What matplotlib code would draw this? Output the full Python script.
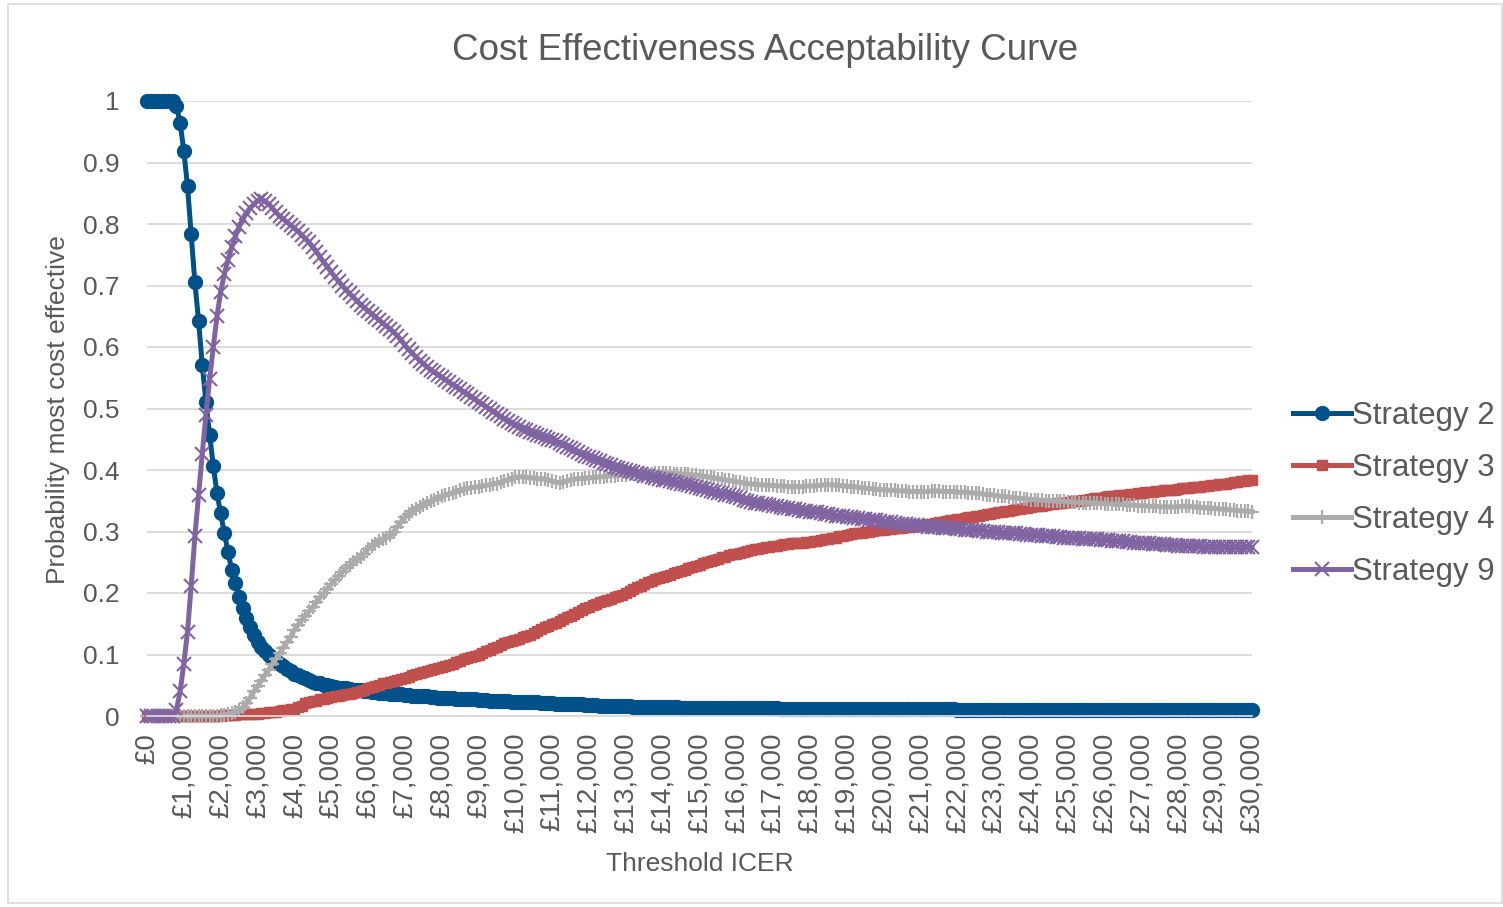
import numpy as np
import matplotlib
matplotlib.use("Agg")
import matplotlib.pyplot as plt
from matplotlib.patches import Rectangle

plt.rcParams['font.family'] = ['Liberation Sans', 'DejaVu Sans']

# threshold ICER in steps of 100, £0 .. £30,000
thresholds = list(range(0, 30001, 100))
tick_values = list(range(0, 30001, 1000))
tick_labels = ["£0"] + ["£{:,}".format(v) for v in tick_values[1:]]

strategy_2 = [
    1.000, 1.000, 1.000, 1.000, 1.000, 1.000, 1.000, 1.000, 0.992, 0.964,
    0.919, 0.861, 0.784, 0.705, 0.643, 0.571, 0.511, 0.457, 0.407, 0.362,
    0.330, 0.297, 0.267, 0.237, 0.216, 0.193, 0.175, 0.159, 0.144, 0.131,
    0.121, 0.113, 0.106, 0.100, 0.095, 0.090, 0.085, 0.081, 0.077, 0.073,
    0.069, 0.066, 0.063, 0.061, 0.058, 0.056, 0.054, 0.053, 0.051, 0.050,
    0.048, 0.047, 0.046, 0.045, 0.045, 0.044, 0.043, 0.042, 0.042, 0.041,
    0.040, 0.039, 0.039, 0.038, 0.038, 0.037, 0.036, 0.036, 0.035, 0.035,
    0.034, 0.034, 0.033, 0.033, 0.032, 0.032, 0.032, 0.031, 0.031, 0.030,
    0.030, 0.030, 0.029, 0.029, 0.028, 0.028, 0.028, 0.027, 0.027, 0.027,
    0.026, 0.026, 0.026, 0.025, 0.025, 0.025, 0.024, 0.024, 0.024, 0.023,
    0.023, 0.023, 0.023, 0.022, 0.022, 0.022, 0.022, 0.021, 0.021, 0.021,
    0.021, 0.020, 0.020, 0.020, 0.020, 0.019, 0.019, 0.019, 0.019, 0.018,
    0.018, 0.018, 0.018, 0.017, 0.017, 0.017, 0.017, 0.016, 0.016, 0.016,
    0.016, 0.016, 0.015, 0.015, 0.015, 0.015, 0.015, 0.014, 0.014, 0.014,
    0.014, 0.014, 0.014, 0.014, 0.014, 0.013, 0.013, 0.013, 0.013, 0.013,
    0.013, 0.013, 0.013, 0.013, 0.013, 0.013, 0.013, 0.013, 0.013, 0.013,
    0.013, 0.013, 0.013, 0.013, 0.013, 0.013, 0.013, 0.013, 0.013, 0.013,
    0.013, 0.013, 0.012, 0.012, 0.012, 0.012, 0.012, 0.012, 0.012, 0.012,
    0.012, 0.012, 0.012, 0.012, 0.012, 0.012, 0.012, 0.012, 0.012, 0.012,
    0.012, 0.012, 0.012, 0.012, 0.012, 0.012, 0.012, 0.012, 0.012, 0.012,
    0.011, 0.011, 0.011, 0.011, 0.011, 0.011, 0.011, 0.011, 0.011, 0.011,
    0.011, 0.011, 0.011, 0.011, 0.011, 0.011, 0.011, 0.011, 0.011, 0.011,
    0.010, 0.010, 0.010, 0.010, 0.010, 0.010, 0.010, 0.010, 0.010, 0.010,
    0.010, 0.010, 0.010, 0.010, 0.010, 0.010, 0.010, 0.010, 0.010, 0.010,
    0.010, 0.010, 0.010, 0.010, 0.010, 0.010, 0.010, 0.010, 0.010, 0.010,
    0.010, 0.010, 0.010, 0.010, 0.010, 0.010, 0.010, 0.010, 0.010, 0.010,
    0.009, 0.009, 0.009, 0.009, 0.009, 0.009, 0.009, 0.009, 0.009, 0.009,
    0.009, 0.009, 0.009, 0.009, 0.009, 0.009, 0.009, 0.009, 0.009, 0.009,
    0.009, 0.009, 0.009, 0.009, 0.009, 0.009, 0.009, 0.009, 0.009, 0.009,
    0.009, 0.009, 0.009, 0.009, 0.009, 0.009, 0.009, 0.009, 0.009, 0.009,
    0.009,
]

strategy_3 = [
    0.000, 0.000, 0.000, 0.000, 0.000, 0.000, 0.000, 0.000, 0.000, 0.000,
    0.000, 0.000, 0.000, 0.000, 0.000, 0.000, 0.000, 0.000, 0.000, 0.000,
    0.000, 0.001, 0.001, 0.002, 0.002, 0.003, 0.003, 0.003, 0.004, 0.004,
    0.004, 0.005, 0.005, 0.006, 0.006, 0.007, 0.008, 0.009, 0.010, 0.011,
    0.012, 0.014, 0.017, 0.021, 0.023, 0.024, 0.025, 0.027, 0.028, 0.030,
    0.031, 0.032, 0.033, 0.034, 0.035, 0.036, 0.038, 0.039, 0.041, 0.043,
    0.045, 0.047, 0.049, 0.051, 0.053, 0.054, 0.056, 0.057, 0.058, 0.060,
    0.062, 0.064, 0.066, 0.068, 0.070, 0.072, 0.073, 0.075, 0.077, 0.078,
    0.080, 0.081, 0.083, 0.085, 0.087, 0.089, 0.092, 0.094, 0.096, 0.098,
    0.100, 0.102, 0.105, 0.107, 0.110, 0.113, 0.116, 0.118, 0.120, 0.122,
    0.124, 0.126, 0.128, 0.130, 0.132, 0.135, 0.138, 0.141, 0.144, 0.147,
    0.149, 0.152, 0.155, 0.158, 0.161, 0.163, 0.166, 0.169, 0.172, 0.175,
    0.178, 0.180, 0.182, 0.185, 0.187, 0.189, 0.191, 0.193, 0.195, 0.197,
    0.200, 0.203, 0.206, 0.209, 0.212, 0.215, 0.218, 0.220, 0.222, 0.224,
    0.226, 0.228, 0.230, 0.232, 0.234, 0.236, 0.238, 0.240, 0.242, 0.244,
    0.246, 0.248, 0.250, 0.252, 0.254, 0.256, 0.258, 0.259, 0.261, 0.263,
    0.264, 0.265, 0.267, 0.268, 0.270, 0.271, 0.272, 0.273, 0.274, 0.275,
    0.276, 0.277, 0.278, 0.279, 0.280, 0.281, 0.281, 0.282, 0.282, 0.283,
    0.283, 0.284, 0.285, 0.286, 0.287, 0.288, 0.289, 0.290, 0.292, 0.293,
    0.295, 0.296, 0.297, 0.297, 0.298, 0.299, 0.300, 0.301, 0.302, 0.302,
    0.303, 0.304, 0.304, 0.305, 0.306, 0.306, 0.307, 0.308, 0.309, 0.309,
    0.310, 0.311, 0.312, 0.313, 0.314, 0.315, 0.316, 0.317, 0.318, 0.319,
    0.320, 0.321, 0.322, 0.323, 0.324, 0.325, 0.326, 0.327, 0.328, 0.329,
    0.330, 0.331, 0.332, 0.333, 0.334, 0.335, 0.336, 0.337, 0.338, 0.339,
    0.340, 0.341, 0.342, 0.342, 0.343, 0.344, 0.345, 0.346, 0.346, 0.347,
    0.348, 0.349, 0.350, 0.350, 0.351, 0.352, 0.353, 0.354, 0.354, 0.355,
    0.356, 0.357, 0.357, 0.358, 0.359, 0.359, 0.360, 0.361, 0.361, 0.362,
    0.363, 0.364, 0.364, 0.365, 0.366, 0.366, 0.367, 0.367, 0.368, 0.368,
    0.369, 0.370, 0.370, 0.371, 0.372, 0.372, 0.373, 0.374, 0.374, 0.375,
    0.376, 0.377, 0.377, 0.378, 0.379, 0.380, 0.381, 0.382, 0.382, 0.383,
    0.384,
]

strategy_4 = [
    0.000, 0.000, 0.000, 0.000, 0.000, 0.000, 0.000, 0.000, 0.000, 0.000,
    0.000, 0.000, 0.000, 0.000, 0.000, 0.000, 0.000, 0.000, 0.000, 0.000,
    0.001, 0.002, 0.003, 0.005, 0.006, 0.009, 0.014, 0.021, 0.030, 0.040,
    0.048, 0.057, 0.066, 0.075, 0.084, 0.093, 0.102, 0.111, 0.120, 0.129,
    0.140, 0.148, 0.156, 0.163, 0.170, 0.177, 0.185, 0.193, 0.200, 0.207,
    0.214, 0.221, 0.228, 0.234, 0.240, 0.245, 0.250, 0.255, 0.259, 0.264,
    0.272, 0.276, 0.280, 0.284, 0.287, 0.290, 0.294, 0.300, 0.308, 0.316,
    0.323, 0.328, 0.333, 0.337, 0.340, 0.343, 0.346, 0.349, 0.352, 0.355,
    0.357, 0.359, 0.361, 0.363, 0.365, 0.367, 0.369, 0.370, 0.371, 0.372,
    0.373, 0.374, 0.375, 0.376, 0.377, 0.378, 0.380, 0.382, 0.384, 0.386,
    0.388, 0.389, 0.389, 0.388, 0.387, 0.387, 0.386, 0.386, 0.385, 0.384,
    0.382, 0.380, 0.379, 0.380, 0.382, 0.384, 0.385, 0.386, 0.386, 0.387,
    0.387, 0.388, 0.388, 0.389, 0.389, 0.390, 0.391, 0.391, 0.392, 0.392,
    0.392, 0.393, 0.393, 0.393, 0.394, 0.394, 0.394, 0.394, 0.395, 0.395,
    0.395, 0.395, 0.395, 0.394, 0.394, 0.394, 0.393, 0.393, 0.392, 0.392,
    0.391, 0.390, 0.389, 0.388, 0.387, 0.386, 0.385, 0.384, 0.383, 0.382,
    0.381, 0.380, 0.379, 0.378, 0.377, 0.377, 0.376, 0.376, 0.375, 0.375,
    0.375, 0.374, 0.374, 0.374, 0.373, 0.373, 0.373, 0.373, 0.373, 0.374,
    0.374, 0.374, 0.375, 0.375, 0.376, 0.376, 0.376, 0.375, 0.375, 0.374,
    0.374, 0.373, 0.373, 0.372, 0.371, 0.370, 0.370, 0.369, 0.369, 0.368,
    0.368, 0.367, 0.367, 0.367, 0.366, 0.366, 0.366, 0.365, 0.365, 0.365,
    0.365, 0.365, 0.365, 0.366, 0.366, 0.366, 0.365, 0.365, 0.365, 0.365,
    0.364, 0.364, 0.364, 0.363, 0.363, 0.362, 0.362, 0.361, 0.360, 0.360,
    0.359, 0.358, 0.357, 0.357, 0.356, 0.355, 0.354, 0.354, 0.353, 0.353,
    0.352, 0.352, 0.351, 0.351, 0.350, 0.350, 0.350, 0.349, 0.349, 0.349,
    0.348, 0.348, 0.348, 0.347, 0.347, 0.347, 0.347, 0.346, 0.346, 0.346,
    0.345, 0.345, 0.345, 0.344, 0.344, 0.344, 0.343, 0.343, 0.343, 0.342,
    0.342, 0.342, 0.341, 0.341, 0.341, 0.340, 0.340, 0.340, 0.340, 0.340,
    0.340, 0.341, 0.341, 0.341, 0.340, 0.340, 0.339, 0.339, 0.338, 0.338,
    0.337, 0.337, 0.336, 0.336, 0.335, 0.335, 0.334, 0.334, 0.333, 0.333,
    0.332,
]

strategy_9 = [
    0.000, 0.000, 0.000, 0.000, 0.000, 0.000, 0.000, 0.000, 0.010, 0.040,
    0.085, 0.137, 0.212, 0.292, 0.360, 0.426, 0.490, 0.548, 0.600, 0.650,
    0.690, 0.718, 0.742, 0.762, 0.780, 0.795, 0.808, 0.818, 0.826, 0.832,
    0.838, 0.840, 0.837, 0.833, 0.826, 0.819, 0.813, 0.808, 0.803, 0.798,
    0.793, 0.788, 0.782, 0.776, 0.770, 0.763, 0.755, 0.746, 0.738, 0.730,
    0.722, 0.714, 0.707, 0.700, 0.693, 0.687, 0.681, 0.675, 0.669, 0.664,
    0.659, 0.654, 0.649, 0.644, 0.639, 0.634, 0.629, 0.624, 0.618, 0.611,
    0.603, 0.596, 0.590, 0.584, 0.578, 0.573, 0.568, 0.563, 0.559, 0.555,
    0.551, 0.547, 0.543, 0.539, 0.535, 0.531, 0.527, 0.523, 0.519, 0.515,
    0.511, 0.507, 0.503, 0.499, 0.495, 0.491, 0.487, 0.483, 0.479, 0.476,
    0.473, 0.470, 0.467, 0.465, 0.462, 0.460, 0.457, 0.455, 0.453, 0.451,
    0.449, 0.447, 0.444, 0.441, 0.438, 0.435, 0.432, 0.429, 0.426, 0.423,
    0.421, 0.419, 0.417, 0.414, 0.412, 0.410, 0.408, 0.405, 0.403, 0.401,
    0.400, 0.398, 0.396, 0.395, 0.393, 0.391, 0.390, 0.388, 0.387, 0.386,
    0.384, 0.383, 0.382, 0.381, 0.379, 0.378, 0.377, 0.375, 0.374, 0.372,
    0.371, 0.369, 0.368, 0.366, 0.365, 0.363, 0.362, 0.360, 0.359, 0.358,
    0.356, 0.354, 0.352, 0.350, 0.348, 0.347, 0.346, 0.345, 0.344, 0.343,
    0.342, 0.341, 0.340, 0.339, 0.338, 0.337, 0.336, 0.335, 0.334, 0.333,
    0.332, 0.331, 0.331, 0.330, 0.329, 0.328, 0.327, 0.326, 0.325, 0.325,
    0.324, 0.323, 0.322, 0.322, 0.321, 0.320, 0.319, 0.318, 0.318, 0.317,
    0.316, 0.315, 0.315, 0.314, 0.313, 0.312, 0.312, 0.311, 0.310, 0.310,
    0.309, 0.309, 0.308, 0.308, 0.307, 0.307, 0.306, 0.306, 0.305, 0.305,
    0.304, 0.304, 0.303, 0.303, 0.302, 0.302, 0.301, 0.301, 0.300, 0.300,
    0.299, 0.299, 0.298, 0.298, 0.297, 0.297, 0.297, 0.296, 0.296, 0.295,
    0.295, 0.294, 0.294, 0.293, 0.293, 0.292, 0.292, 0.291, 0.291, 0.290,
    0.290, 0.290, 0.289, 0.289, 0.288, 0.288, 0.288, 0.287, 0.287, 0.286,
    0.286, 0.286, 0.285, 0.285, 0.284, 0.284, 0.283, 0.283, 0.282, 0.282,
    0.282, 0.281, 0.281, 0.280, 0.280, 0.279, 0.279, 0.278, 0.278, 0.278,
    0.277, 0.277, 0.277, 0.276, 0.276, 0.276, 0.276, 0.275, 0.275, 0.275,
    0.275, 0.275, 0.275, 0.274, 0.274, 0.274, 0.274, 0.274, 0.274, 0.274,
    0.274,
]

text_col = "#595959"

fig = plt.figure(figsize=(15.03, 9.07), dpi=100)
ax = fig.add_axes([147 / 1503, 1 - 716 / 907, (1252 - 147) / 1503, (716 - 101) / 907])

ax.plot(thresholds, strategy_2, color="#00518A", lw=3.6, marker="o", ms=10,
        mec="#00518A", mfc="#00518A", label="Strategy 2", clip_on=False)
ax.plot(thresholds, strategy_3, color="#C0504D", lw=3.6, marker="s", ms=7,
        mec="#C0504D", mfc="#C0504D", label="Strategy 3", clip_on=False)
ax.plot(thresholds, strategy_4, color="#ABABAB", lw=3.6, marker="+", ms=10,
        mew=1.6, mec="#ABABAB", label="Strategy 4", clip_on=False)
ax.plot(thresholds, strategy_9, color="#8064A2", lw=3.6, marker="x", ms=10,
        mew=1.5, mec="#8064A2", label="Strategy 9", clip_on=False)

ax.set_xlim(0, 30000)
ax.set_ylim(0, 1)
ax.set_xticks(tick_values)
ax.set_xticklabels(tick_labels, rotation=90, va="top", ha="center")
ax.set_yticks([0, 0.1, 0.2, 0.3, 0.4, 0.5, 0.6, 0.7, 0.8, 0.9, 1])
ax.set_yticklabels(["0", "0.1", "0.2", "0.3", "0.4", "0.5", "0.6", "0.7", "0.8", "0.9", "1"])
ax.tick_params(axis="both", length=0, labelcolor=text_col)
ax.tick_params(axis="x", pad=12, labelsize=20)
ax.tick_params(axis="y", pad=20, labelsize=19)
ax.grid(axis="y", color="#D9D9D9", lw=1.3)
ax.set_axisbelow(True)
for s in ["top", "right", "left"]:
    ax.spines[s].set_visible(False)
ax.spines["bottom"].set_color("#D9D9D9")
ax.spines["bottom"].set_linewidth(1.3)

fig.text(765 / 1503, 1 - 50 / 907, "Cost Effectiveness Acceptability Curve",
         ha="center", va="center", fontsize=26.5, color=text_col)
fig.text(700 / 1503, 1 - 864 / 907, "Threshold ICER", ha="center", va="center",
         fontsize=19, color=text_col)
fig.text(58 / 1503, 1 - 410 / 907, "Probability most cost effective", ha="center",
         va="center", rotation=90, fontsize=19, color=text_col)

leg = ax.legend(loc="center left", bbox_to_anchor=(1293 / 1503, 1 - 494 / 907),
                bbox_transform=fig.transFigure, frameon=False, fontsize=22.5,
                handlelength=1.85, handletextpad=0.05, labelspacing=0.7,
                numpoints=1, borderpad=0, borderaxespad=0)
for t in leg.get_texts():
    t.set_color(text_col)

fig.patches.append(Rectangle((8 / 1503, 4 / 907), 1494 / 1503, 899 / 907,
                             transform=fig.transFigure, fill=False,
                             edgecolor="#D9D9D9", lw=1.2))

fig.savefig("out.png", dpi=100)
